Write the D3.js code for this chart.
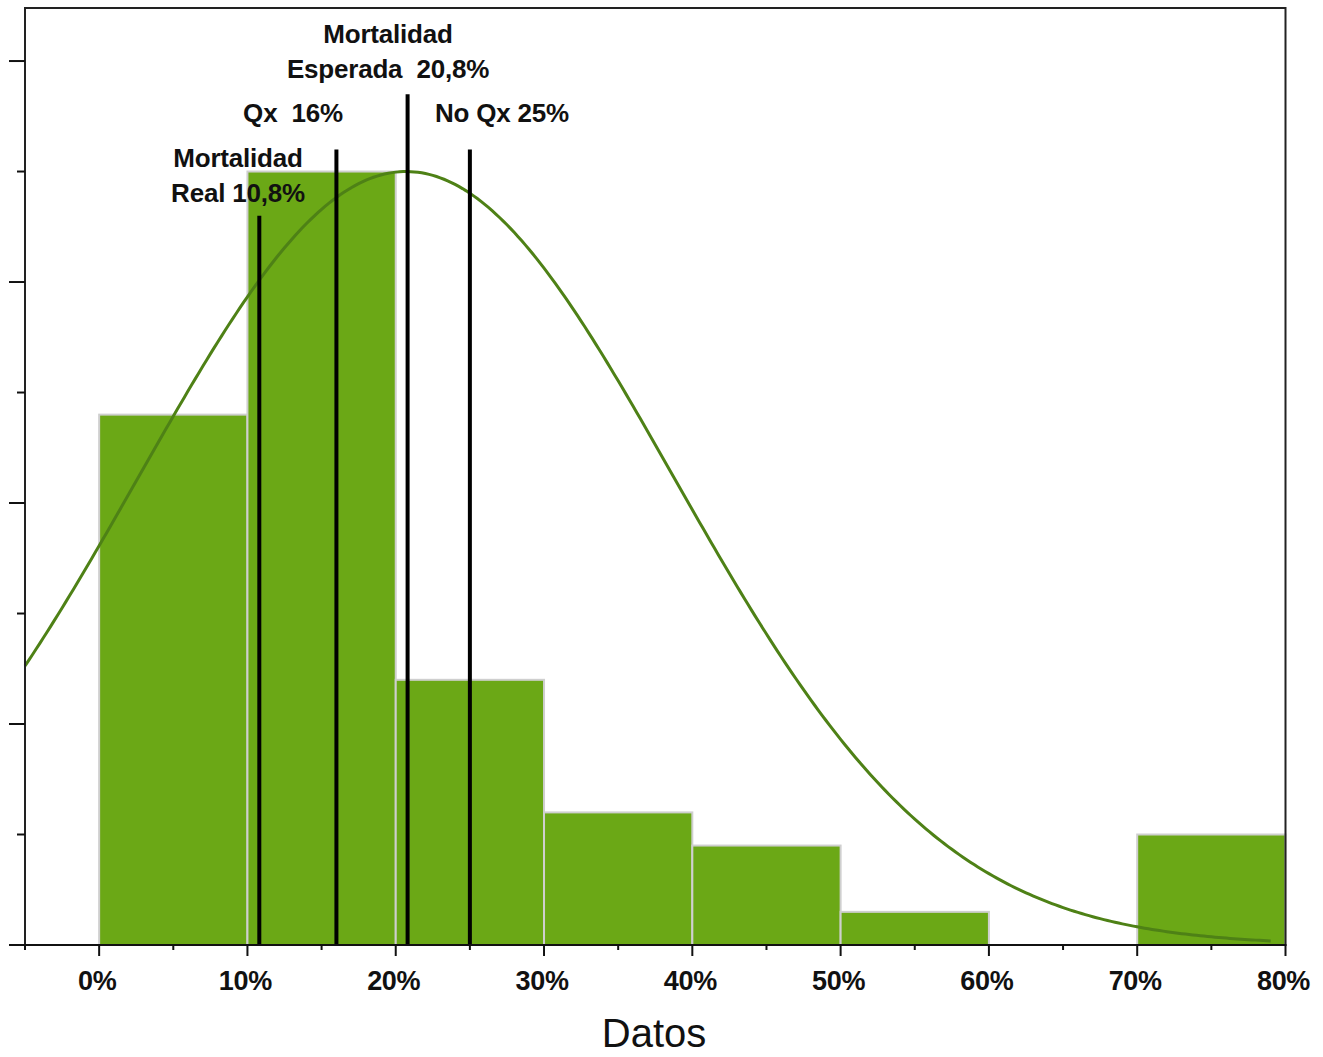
<!DOCTYPE html>
<html>
<head>
<meta charset="utf-8">
<script src="https://cdn.jsdelivr.net/npm/d3@7"></script>
<style>
  html, body { margin: 0; padding: 0; background: #fff; }
  svg { display: block; }
  text { font-family: "Liberation Sans", Arial, sans-serif; }
</style>
</head>
<body>
<svg id="chart" width="1323" height="1057"></svg>
<script>
// Histogram bins (lower edge, upper edge in %) and their frequencies
const binStart = [0, 10, 20, 30, 40, 50, 60, 70];
const binEnd   = [10, 20, 30, 40, 50, 60, 70, 80];
const binValue = [48, 70, 24, 12, 9, 3, 0, 10];

// Fitted normal curve parameters (mean %, sd %, peak height)
const fitMean = 20.7;
const fitSd = 18;
const fitPeak = 70;
const fitFrom = -5;
const fitTo = 79;

// Reference mortality markers
const markerValue = [10.8, 16, 20.8, 25];
const markerTop   = [66, 72, 77, 72];
const markerLabel = [
  ["Mortalidad", "Real 10,8%"],
  ["Qx  16%"],
  ["Mortalidad", "Esperada  20,8%"],
  ["No Qx 25%"]
];
const markerLabelX = [238, 293, 388, 502];
const markerLabelY = [167, 122, 43, 122];

// Axis ticks
const xTicks = [0, 10, 20, 30, 40, 50, 60, 70, 80];
const xTickLabels = ["0%", "10%", "20%", "30%", "40%", "50%", "60%", "70%", "80%"];
const xMinorTicks = [-5, 5, 15, 25, 35, 45, 55, 65, 75];
const yMajorTicks = [0, 20, 40, 60, 80];
const yMinorTicks = [10, 30, 50, 70];
const xTitle = "Datos";

const svg = d3.select("#chart");
const plotLeft = 25, plotRight = 1285.5, plotTop = 8, plotBottom = 945;

const x = d3.scaleLinear().domain([-5, 80]).range([plotLeft, plotRight]);
const y = d3.scaleLinear().domain([0, 84.8]).range([plotBottom, plotTop]);

const bins = binStart.map((s, i) => ({ s, e: binEnd[i], v: binValue[i] })).filter(d => d.v > 0);

// Bars
svg.append("g").selectAll("rect").data(bins).join("rect")
  .attr("x", d => x(d.s))
  .attr("y", d => y(d.v))
  .attr("width", d => x(d.e) - x(d.s))
  .attr("height", d => y(0) - y(d.v))
  .attr("fill", "#6ba816")
  .attr("stroke", "#cfcfcf")
  .attr("stroke-width", 2);

// Normal fit curve
const curveX = d3.range(fitFrom, fitTo + 0.001, 0.25);
const normal = v => fitPeak * Math.exp(-((v - fitMean) ** 2) / (2 * fitSd * fitSd));
svg.append("path")
  .datum(curveX)
  .attr("fill", "none")
  .attr("stroke", "#4e8116")
  .attr("stroke-width", 3)
  .attr("d", d3.line().x(d => x(d)).y(d => y(normal(d))));

// Marker lines
svg.append("g").selectAll("line").data(markerValue).join("line")
  .attr("x1", d => x(d)).attr("x2", d => x(d))
  .attr("y1", (d, i) => y(markerTop[i]))
  .attr("y2", y(0))
  .attr("stroke", "#000")
  .attr("stroke-width", 4);

// Marker labels
markerLabel.forEach((lines, i) => {
  lines.forEach((t, j) => {
    svg.append("text")
      .attr("x", markerLabelX[i])
      .attr("y", markerLabelY[i] + j * 35)
      .attr("text-anchor", "middle")
      .attr("font-size", 26)
      .attr("font-weight", "bold")
      .attr("letter-spacing", "-0.2")
      .style("white-space", "pre")
      .attr("fill", "#111")
      .text(t);
  });
});

// Frame
svg.append("path")
  .attr("d", `M${plotLeft},${plotBottom}V${plotTop}H${plotRight}V${plotBottom}`)
  .attr("fill", "none")
  .attr("stroke", "#222")
  .attr("stroke-width", 2);

// X axis
const xAxis = svg.append("g");
xAxis.append("line").attr("x1", plotLeft - 1).attr("x2", plotRight + 1)
  .attr("y1", plotBottom).attr("y2", plotBottom)
  .attr("stroke", "#111").attr("stroke-width", 2);
xAxis.selectAll("line.major").data(xTicks).join("line").attr("class", "major")
  .attr("x1", d => x(d)).attr("x2", d => x(d))
  .attr("y1", plotBottom).attr("y2", plotBottom + 11)
  .attr("stroke", "#111").attr("stroke-width", 2);
xAxis.selectAll("line.minor").data(xMinorTicks).join("line").attr("class", "minor")
  .attr("x1", d => x(d)).attr("x2", d => x(d))
  .attr("y1", plotBottom).attr("y2", plotBottom + 5)
  .attr("stroke", "#111").attr("stroke-width", 2);
xAxis.selectAll("text").data(xTicks).join("text")
  .attr("x", d => x(d) - 2)
  .attr("y", 990)
  .attr("text-anchor", "middle")
  .attr("font-size", 27)
  .attr("font-weight", "bold")
  .attr("letter-spacing", "-0.3")
  .attr("fill", "#111")
  .text((d, i) => xTickLabels[i]);

// Y axis ticks (unlabelled)
const yAxis = svg.append("g");
yAxis.selectAll("line.major").data(yMajorTicks).join("line").attr("class", "major")
  .attr("x1", plotLeft - 16).attr("x2", plotLeft)
  .attr("y1", d => y(d)).attr("y2", d => y(d))
  .attr("stroke", "#111").attr("stroke-width", 2);
yAxis.selectAll("line.minor").data(yMinorTicks).join("line").attr("class", "minor")
  .attr("x1", plotLeft - 8).attr("x2", plotLeft)
  .attr("y1", d => y(d)).attr("y2", d => y(d))
  .attr("stroke", "#111").attr("stroke-width", 2);

// Axis title
svg.append("text")
  .attr("x", 654)
  .attr("y", 1047)
  .attr("text-anchor", "middle")
  .attr("font-size", 40)
  .attr("fill", "#111")
  .text(xTitle);
</script>
</body>
</html>
